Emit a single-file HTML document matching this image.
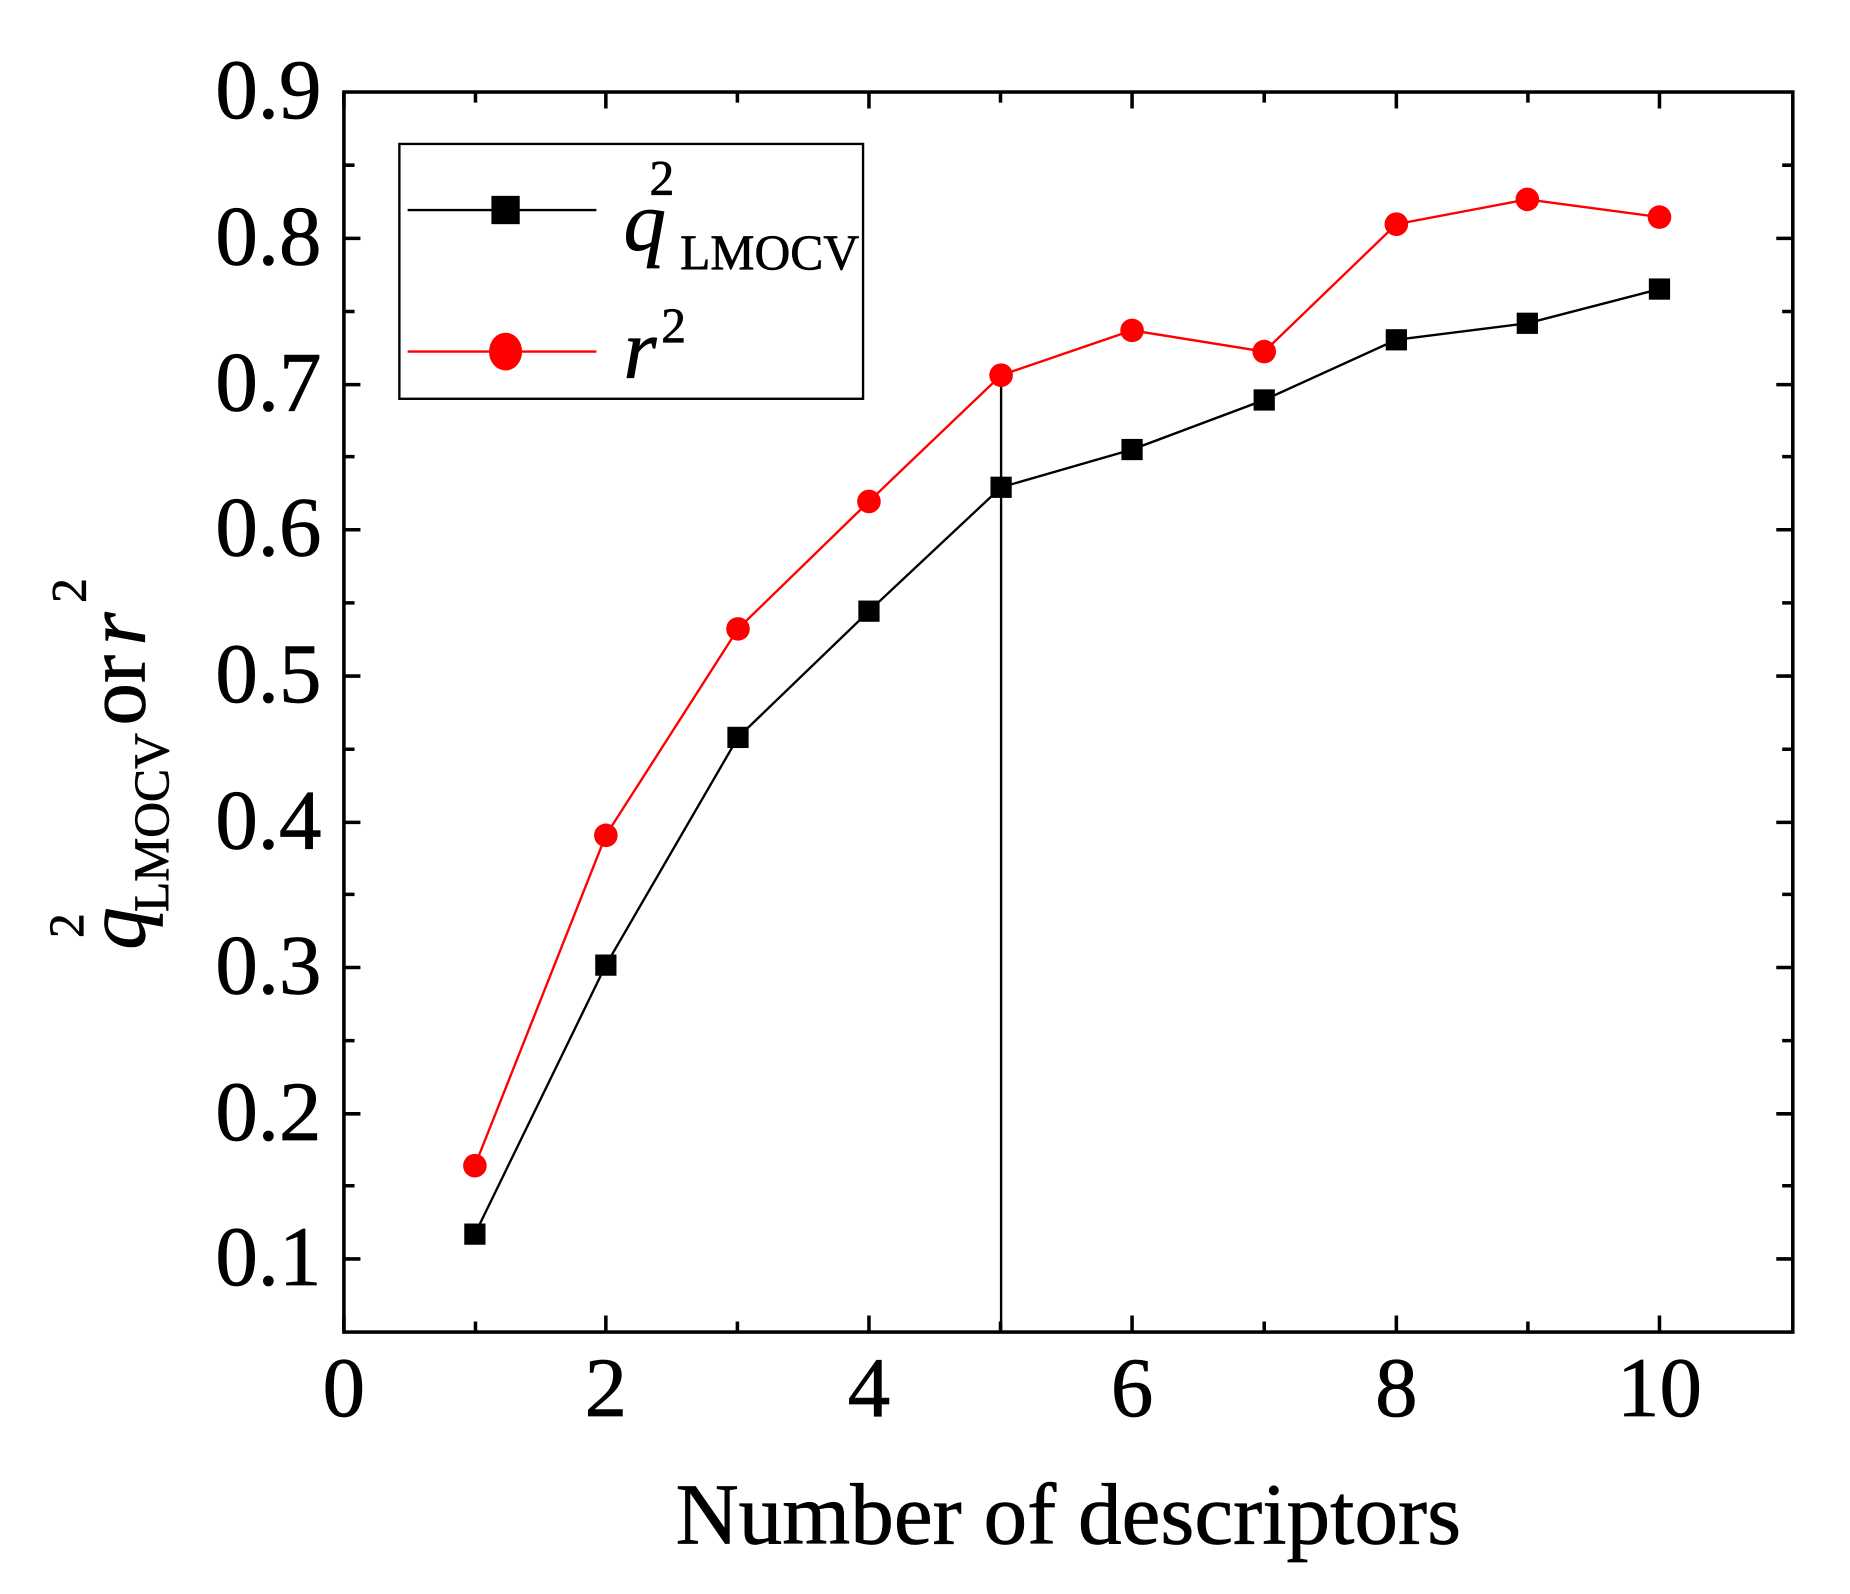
<!DOCTYPE html>
<html><head><style>html,body{margin:0;padding:0;background:#fff}svg{display:block}</style></head>
<body>
<svg width="1850" height="1594" viewBox="0 0 1567 1351" xmlns="http://www.w3.org/2000/svg" font-family="Liberation Serif, serif">
<rect x="0" width="1570" height="1360" fill="#fff"/>
<g stroke="#000" stroke-width="3" fill="none">
<rect x="291" y="78" width="1228" height="1051"/>
<path d="M291 1129v-14M402.5 1129v-9M513 1129v-14M624.5 1129v-9M736 1129v-14M847.5 1129v-9M959 1129v-14M1071 1129v-9M1183 1129v-14M1294.5 1129v-9M1406 1129v-14
M291 78v14M402.5 78v9M513 78v14M624.5 78v9M736 78v14M847.5 78v9M959 78v14M1071 78v9M1183 78v14M1294.5 78v9M1406 78v14"/>
<path d="M291 202h14M291 326h14M291 449h14M291 573h14M291 697h14M291 820h14M291 944h14M291 1067h14
M291 140h9M291 264h9M291 387h9M291 511h9M291 635h9M291 758h9M291 882h9M291 1005h9
M1519 202h-14M1519 326h-14M1519 449h-14M1519 573h-14M1519 697h-14M1519 820h-14M1519 944h-14M1519 1067h-14
M1519 140h-9M1519 264h-9M1519 387h-9M1519 511h-9M1519 635h-9M1519 758h-9M1519 882h-9M1519 1005h-9"/>
</g>
<line x1="848" y1="318" x2="848" y2="1129" stroke="#000" stroke-width="2"/>
<polyline fill="none" stroke="#000" stroke-width="2" points="402,1046 513,818 625,625 736,518 848,413 959,381 1071,339 1183,288 1294,274 1406,245"/>
<polyline fill="none" stroke="#f00" stroke-width="2" points="402,988 513,708 625,533 736,425 848,318 959,280 1071,298 1183,190 1294,169 1406,184"/>
<g fill="#000">
<rect x="393" y="1037" width="18" height="18"/><rect x="504" y="809" width="18" height="18"/><rect x="616" y="616" width="18" height="18"/><rect x="727" y="509" width="18" height="18"/><rect x="839" y="404" width="18" height="18"/><rect x="950" y="372" width="18" height="18"/><rect x="1062" y="330" width="18" height="18"/><rect x="1174" y="279" width="18" height="18"/><rect x="1285" y="265" width="18" height="18"/><rect x="1397" y="236" width="18" height="18"/>
</g>
<g fill="#f00">
<circle cx="402" cy="988" r="10"/><circle cx="513" cy="708" r="10"/><circle cx="625" cy="533" r="10"/><circle cx="736" cy="425" r="10"/><circle cx="848" cy="318" r="10"/><circle cx="959" cy="280" r="10"/><circle cx="1071" cy="298" r="10"/><circle cx="1183" cy="190" r="10"/><circle cx="1294" cy="169" r="10"/><circle cx="1406" cy="184" r="10"/>
</g>
<rect x="338" y="122" width="393" height="216" fill="#fff" stroke="#000" stroke-width="2"/>
<line x1="345" y1="178" x2="505" y2="178" stroke="#000" stroke-width="2"/>
<rect x="416" y="166" width="24" height="24" fill="#000"/>
<line x1="345" y1="298" x2="505" y2="298" stroke="#f00" stroke-width="2"/>
<ellipse cx="428" cy="298" rx="14" ry="16" fill="#f00"/>
<g stroke="#000" stroke-width="0.6">
<text x="528" y="212" font-size="72" font-style="italic">q</text>
<text x="550" y="165" font-size="42">2</text>
<text x="576" y="228" font-size="42">LMOCV</text>
<text x="528" y="320" font-size="72" font-style="italic">r</text>
<text x="560" y="290" font-size="42">2</text>
<g font-size="72" text-anchor="end">
<text x="272" y="100">0.9</text><text x="272" y="224">0.8</text><text x="272" y="348">0.7</text><text x="272" y="471">0.6</text><text x="272" y="595">0.5</text><text x="272" y="719">0.4</text><text x="272" y="842">0.3</text><text x="272" y="966">0.2</text><text x="272" y="1089">0.1</text>
</g>
<g font-size="72" text-anchor="middle">
<text x="291" y="1200">0</text><text x="513" y="1200">2</text><text x="736" y="1200">4</text><text x="959" y="1200">6</text><text x="1183" y="1200">8</text><text x="1406" y="1200">10</text>
</g>
<text x="905" y="1308" font-size="74" text-anchor="middle">Number of descriptors</text>
<g transform="translate(122,805) rotate(-90)">
<text x="0" y="0" font-size="72" font-style="italic">q</text>
<text x="10" y="-52" font-size="42">2</text>
<text x="32" y="20" font-size="42">LMOCV</text>
<text x="190" y="0" font-size="72">or</text>
<text x="258" y="0" font-size="72" font-style="italic">r</text>
<text x="294" y="-50" font-size="42">2</text>
</g>
</g>
</svg>
</body></html>
